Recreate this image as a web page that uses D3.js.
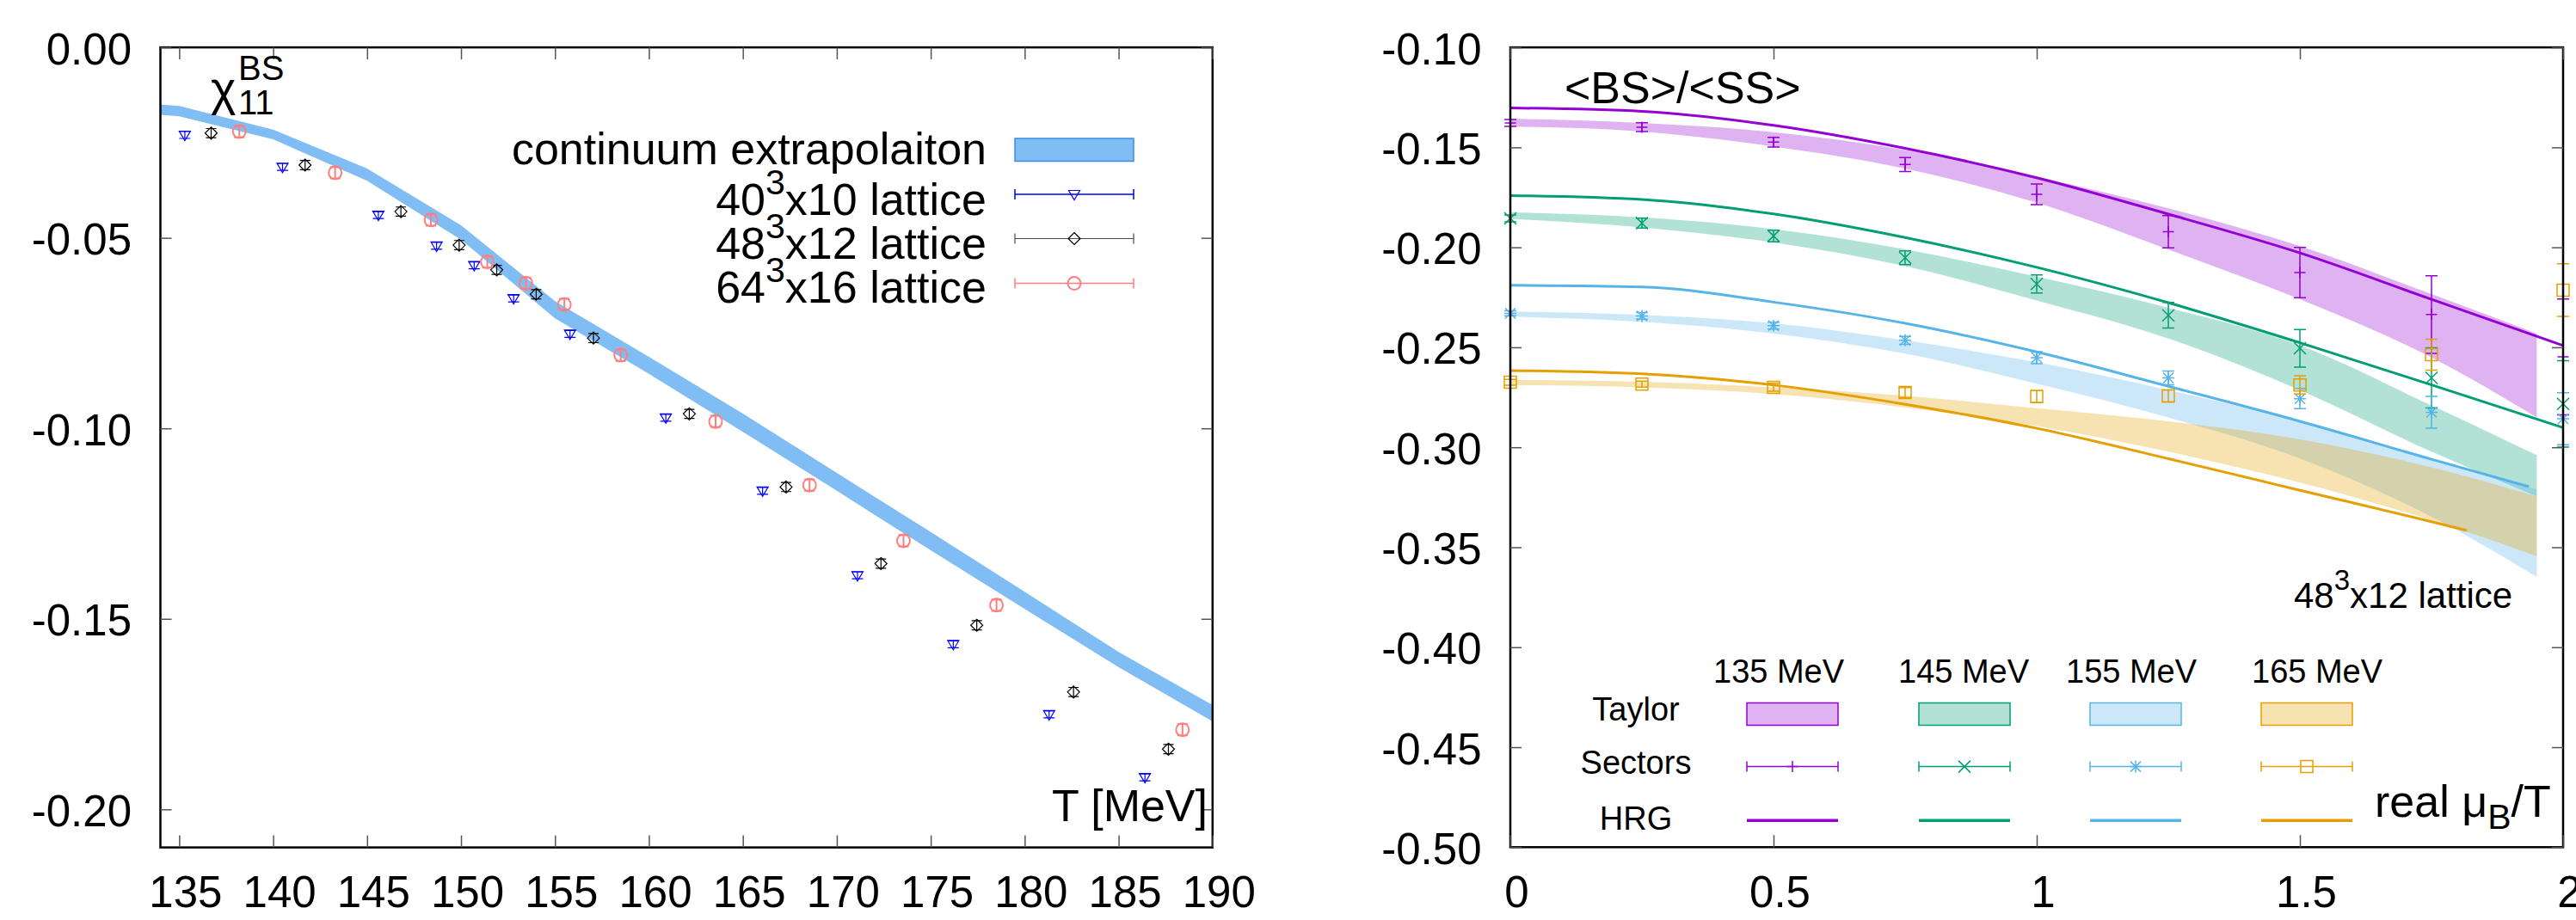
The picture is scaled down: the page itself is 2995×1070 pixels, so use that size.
<!DOCTYPE html>
<html>
<head>
<meta charset="utf-8">
<script src="https://cdn.jsdelivr.net/npm/d3@7"></script>
<style>
  body { margin: 0; background: #fff; }
  svg { display: block; font-family: "Liberation Sans", Arial, sans-serif; }
</style>
</head>
<body>
<svg id="chart" width="2995" height="1070"></svg>
<script>
// ---------------- left panel data: chi11^BS vs T ----------------
const contT  = [134, 135, 140, 145, 150, 155, 160, 165, 170, 175, 180, 185, 190];
const contUp = [-0.0150, -0.0154, -0.0216, -0.0318, -0.0467, -0.0666, -0.0812, -0.0961, -0.1117, -0.1272, -0.1429, -0.1587, -0.1726];
const contDn = [-0.0177, -0.0181, -0.0241, -0.0350, -0.0505, -0.0711, -0.0857, -0.1009, -0.1164, -0.1320, -0.1474, -0.1627, -0.1769];

// 40^3x10
const nt10T = [135.3, 140.5, 145.6, 148.7, 150.7, 152.8, 155.8, 160.9, 166.05, 171.1, 176.2, 181.3, 186.4];
const nt10V = [-0.0230, -0.0314, -0.0440, -0.0521, -0.0572, -0.0659, -0.0752, -0.0972, -0.1164, -0.1386, -0.1567, -0.1751, -0.1916];
const nt10E = [0.0009, 0.0009, 0.0009, 0.0009, 0.0009, 0.0009, 0.0009, 0.0009, 0.0009, 0.0009, 0.0009, 0.0009, 0.0009];
// 48^3x12
const nt12T = [136.7, 141.7, 146.8, 149.9, 151.9, 154.0, 157.05, 162.15, 167.3, 172.35, 177.45, 182.6, 187.65];
const nt12V = [-0.0225, -0.0309, -0.0431, -0.0519, -0.0584, -0.0648, -0.0763, -0.0962, -0.1154, -0.1355, -0.1517, -0.1692, -0.1842];
const nt12E = [0.0012, 0.0012, 0.0012, 0.0012, 0.0012, 0.0012, 0.0012, 0.0012, 0.0012, 0.0012, 0.0012, 0.0012, 0.0012];
// 64^3x16
const nt16T = [138.2, 143.3, 148.4, 151.4, 153.45, 155.5, 158.5, 163.55, 168.55, 173.55, 178.5, 188.4];
const nt16V = [-0.0221, -0.0329, -0.0453, -0.0563, -0.0619, -0.0675, -0.0808, -0.0982, -0.1149, -0.1295, -0.1464, -0.1791];
const nt16E = [0.0015, 0.0015, 0.0015, 0.0015, 0.0015, 0.0015, 0.0015, 0.0015, 0.0015, 0.0015, 0.0015, 0.0015];

const leftTicksX = [135, 140, 145, 150, 155, 160, 165, 170, 175, 180, 185, 190];
const leftTicksY = [0, -0.05, -0.10, -0.15, -0.20];

// ---------------- right panel data: <BS>/<SS> vs mu_B/T ----------------
const temps = ["135 MeV", "145 MeV", "155 MeV", "165 MeV"];
const colors = ["#9400d3", "#009e73", "#56b4e9", "#e69f00"];

// Taylor bands
const taylorMu = [0, 0.25, 0.5, 0.75, 1, 1.25, 1.5, 1.75, 1.95];
const taylor135Up = [-0.1357, -0.1378, -0.1424, -0.1513, -0.1648, -0.1805, -0.1994, -0.2234, -0.2431];
const taylor135Dn = [-0.1396, -0.1421, -0.1496, -0.1606, -0.1777, -0.2011, -0.2260, -0.2551, -0.2851];
const taylor145Up = [-0.1825, -0.1850, -0.1909, -0.2010, -0.2147, -0.2302, -0.2491, -0.2791, -0.3039];
const taylor145Dn = [-0.1858, -0.1900, -0.1976, -0.2094, -0.2266, -0.2456, -0.2714, -0.3022, -0.3245];
const taylor155Up = [-0.2321, -0.2338, -0.2380, -0.2465, -0.2575, -0.2714, -0.2868, -0.3056, -0.3211];
const taylor155Dn = [-0.2347, -0.2372, -0.2431, -0.2532, -0.2682, -0.2851, -0.3056, -0.3347, -0.3648];
const taylor165Up = [-0.2663, -0.2672, -0.2700, -0.2742, -0.2805, -0.2870, -0.2960, -0.3100, -0.3245];
const taylor165Dn = [-0.2689, -0.2700, -0.2734, -0.2801, -0.2894, -0.3022, -0.3176, -0.3365, -0.3545];

// sector points
const sectMu = [0, 0.25, 0.5, 0.75, 1, 1.25, 1.5, 1.75, 2];
const sect135V = [-0.1378, -0.1399, -0.1474, -0.1586, -0.1735, -0.1922, -0.2126, -0.2336, -0.2548];
const sect135E = [0.0017, 0.0022, 0.0024, 0.0035, 0.0052, 0.0081, 0.0126, 0.0194, 0.0290];
const sect145V = [-0.1855, -0.1879, -0.1943, -0.2052, -0.2183, -0.2340, -0.2505, -0.2653, -0.2783];
const sect145E = [0.0017, 0.0025, 0.0029, 0.0034, 0.0045, 0.0064, 0.0094, 0.0150, 0.0216];
const sect155V = [-0.2330, -0.2343, -0.2392, -0.2465, -0.2552, -0.2653, -0.2757, -0.2825, -0.2857];
const sect155E = [0.0012, 0.0017, 0.0017, 0.0020, 0.0030, 0.0034, 0.0050, 0.0080, 0.0130];
const sect165V = [-0.2675, -0.2684, -0.2700, -0.2726, -0.2746, -0.2743, -0.2688, -0.2537, -0.2214];
const sect165E = [0.0015, 0.0015, 0.0020, 0.0025, 0.0030, 0.0030, 0.0046, 0.0077, 0.0132];

// HRG curves
const hrg135Mu = [0, 0.25, 0.5, 0.75, 1, 1.25, 1.5, 1.75, 2];
const hrg135V  = [-0.1303, -0.1320, -0.1390, -0.1505, -0.1652, -0.1834, -0.2028, -0.2260, -0.2491];
const hrg145Mu = [0, 0.25, 0.5, 0.75, 1, 1.25, 1.5, 1.75, 2];
const hrg145V  = [-0.1741, -0.1761, -0.1833, -0.1951, -0.2100, -0.2277, -0.2477, -0.2688, -0.2902];
const hrg155Mu = [0, 0.25, 0.5, 0.75, 1, 1.25, 1.5, 1.75, 1.935];
const hrg155V  = [-0.2190, -0.2198, -0.2274, -0.2380, -0.2523, -0.2695, -0.2870, -0.3060, -0.3197];
const hrg165Mu = [0, 0.25, 0.5, 0.75, 1, 1.25, 1.5, 1.75, 1.817];
const hrg165V  = [-0.2616, -0.2633, -0.2689, -0.2785, -0.2905, -0.3057, -0.3215, -0.3372, -0.3416];

const rightTicksX = [0, 0.5, 1, 1.5, 2];
const rightTicksY = [-0.10, -0.15, -0.20, -0.25, -0.30, -0.35, -0.40, -0.45, -0.50];

// ---------------- drawing ----------------
const svg = d3.select("#chart");
svg.append("rect").attr("width", 2995).attr("height", 1070).attr("fill", "#fff");

const FONT = 52;
const TICKFONT = 51;

// point shapes (local coords)
const shapes = {
    tri: "M-6.5,-4.5L6.5,-4.5L0,6.5Z",
    diamond: "M0,-7L7,0L0,7L-7,0Z",
    circle: "M7.5,0A7.5,7.5 0 1,1 -7.5,0A7.5,7.5 0 1,1 7.5,0Z",
    plus: "M-6.5,0H6.5M0,-6.5V6.5",
    cross: "M-7,-7L7,7M-7,7L7,-7",
    star: "M-7,0H7M0,-7V7M-6,-6L6,6M-6,6L6,-6",
    square: "M-7,-7H7V7H-7Z"
};

function drawFrame(x, y) {
    svg.append("rect")
        .attr("x", x.range()[0]).attr("y", y.range()[1])
        .attr("width", x.range()[1] - x.range()[0])
        .attr("height", y.range()[0] - y.range()[1])
        .attr("fill", "none").attr("stroke", "#000").attr("stroke-width", 2.5);
}

function drawAxes(x, y, xt, yt, xfmt, yfmt) {
    let fam = "Liberation Sans, Arial, sans-serif";
    // bottom
    let gb = svg.append("g").attr("transform", `translate(0,${y.range()[0]})`)
        .call(d3.axisBottom(x).tickValues(xt).tickSize(-14).tickFormat(xfmt));
    // top
    let gt = svg.append("g").attr("transform", `translate(0,${y.range()[1]})`)
        .call(d3.axisTop(x).tickValues(xt).tickSize(-14).tickFormat(""));
    // left
    let gl = svg.append("g").attr("transform", `translate(${x.range()[0]},0)`)
        .call(d3.axisLeft(y).tickValues(yt).tickSize(-13).tickFormat(yfmt));
    // right
    let gr = svg.append("g").attr("transform", `translate(${x.range()[1]},0)`)
        .call(d3.axisRight(y).tickValues(yt).tickSize(-13).tickFormat(""));

    [gb, gt, gl, gr].forEach(g => {
        g.attr("font-size", TICKFONT).attr("font-family", fam);
        g.select(".domain").remove();
        g.selectAll(".tick line").attr("stroke", "#555").attr("stroke-width", 1.5);
    });
    gb.selectAll("text").attr("y", 69.5).attr("dy", 0).attr("dx", 7).attr("fill", "#000");
    gl.selectAll("text").attr("x", -33.5).attr("dy", 19).attr("fill", "#000");
}

function drawErrPoints(g, xs, ys, es, x, y, color, shape, cap, sw) {
    let data = xs.map((t, i) => ({t: t, v: ys[i], e: es[i]}));
    let grp = g.append("g").attr("stroke", color).attr("fill", "none").attr("stroke-width", sw);
    grp.selectAll("path.err").data(data).join("path").attr("class", "err")
        .attr("d", d => {
            let px = x(d.t), y1 = y(d.v + d.e), y2 = y(d.v - d.e);
            return `M${px},${y1}V${y2}M${px - cap},${y1}H${px + cap}M${px - cap},${y2}H${px + cap}`;
        });
    grp.selectAll("path.sym").data(data).join("path").attr("class", "sym")
        .attr("transform", d => `translate(${x(d.t)},${y(d.v)})`)
        .attr("d", shape);
}

// ===== left panel =====
const xL = d3.scaleLinear().domain([134, 190]).range([186.5, 1409.8]);
const yL = d3.scaleLinear().domain([-0.21, 0]).range([985.6, 55.1]);

// continuum band
const contData = contT.map((t, i) => ({t: t, up: contUp[i], dn: contDn[i]}));
svg.append("path")
    .datum(contData)
    .attr("fill", "#80bdf4")
    .attr("d", d3.area().x(d => xL(d.t)).y0(d => yL(d.dn)).y1(d => yL(d.up)));

const gLeft = svg.append("g");
drawErrPoints(gLeft, nt10T, nt10V, nt10E, xL, yL, "#0000ff", shapes.tri, 6.5, 1.2);
drawErrPoints(gLeft, nt12T, nt12V, nt12E, xL, yL, "#000000", shapes.diamond, 6, 1.2);
drawErrPoints(gLeft, nt16T, nt16V, nt16E, xL, yL, "#ff7f7f", shapes.circle, 6, 2);

drawFrame(xL, yL);
drawAxes(xL, yL, leftTicksX, leftTicksY, d3.format("d"), d => d.toFixed(2));

// chi label
svg.append("text").attr("x", 245).attr("y", 122).attr("font-size", 56).text("χ");
svg.append("text").attr("x", 277).attr("y", 133).attr("font-size", 40).text("11");
svg.append("text").attr("x", 277).attr("y", 93).attr("font-size", 40).text("BS");

// x label
svg.append("text").attr("x", 1404).attr("y", 955).attr("font-size", FONT)
    .attr("text-anchor", "end").text("T [MeV]");

// left legend
const legL = svg.append("g");
const legX0 = 1180, legX1 = 1318, legTx = 1147;
legL.append("text").attr("x", legTx).attr("y", 191).attr("font-size", FONT)
    .attr("text-anchor", "end").text("continuum extrapolaiton");
legL.append("rect").attr("x", legX0).attr("y", 161).attr("width", legX1 - legX0).attr("height", 26.5)
    .attr("fill", "#80bdf4").attr("stroke", "#3b8ee6").attr("stroke-width", 1.5);

const legRows = [
    {pre: "40", post: "x10 lattice", color: "#0000ff", shape: shapes.tri, ly: 226, ty: 249.5, sw: 1.2},
    {pre: "48", post: "x12 lattice", color: "#000000", shape: shapes.diamond, ly: 277.5, ty: 301, sw: 1.2},
    {pre: "64", post: "x16 lattice", color: "#ff7f7f", shape: shapes.circle, ly: 329.5, ty: 352, sw: 2}
];
legRows.forEach(r => {
    let t = legL.append("text").attr("x", legTx).attr("y", r.ty).attr("font-size", FONT).attr("text-anchor", "end");
    t.append("tspan").text(r.pre);
    t.append("tspan").attr("font-size", 41).attr("dy", -24).text("3");
    t.append("tspan").attr("font-size", FONT).attr("dy", 24).text(r.post);
    legL.append("path")
        .attr("d", `M${legX0},${r.ly}H${legX1}M${legX0},${r.ly - 6}V${r.ly + 6}M${legX1},${r.ly - 6}V${r.ly + 6}`)
        .attr("stroke", r.color).attr("stroke-width", r.color === "#000000" ? 1.2 : 1.5).attr("opacity", r.color === "#000000" ? 0.7 : 1);
    legL.append("path").attr("transform", `translate(${(legX0 + legX1) / 2},${r.ly})`)
        .attr("d", r.shape).attr("fill", "none").attr("stroke", r.color).attr("stroke-width", r.sw);
});

// ===== right panel =====
const xR = d3.scaleLinear().domain([0, 2]).range([1756, 2980]);
const yR = d3.scaleLinear().domain([-0.5, -0.1]).range([985.3, 55.1]);

const taylorUp = [taylor135Up, taylor145Up, taylor155Up, taylor165Up];
const taylorDn = [taylor135Dn, taylor145Dn, taylor155Dn, taylor165Dn];
const bandArea = d3.area().curve(d3.curveMonotoneX)
    .x(d => xR(d.mu)).y0(d => yR(d.dn)).y1(d => yR(d.up));

taylorUp.forEach((up, k) => {
    let data = taylorMu.map((m, i) => ({mu: m, up: up[i], dn: taylorDn[k][i]}));
    svg.append("path").datum(data)
        .attr("fill", colors[k]).attr("fill-opacity", 0.3)
        .attr("d", bandArea);
});

// HRG lines
const hrgMu = [hrg135Mu, hrg145Mu, hrg155Mu, hrg165Mu];
const hrgV = [hrg135V, hrg145V, hrg155V, hrg165V];
const hrgLine = d3.line().curve(d3.curveMonotoneX).x(d => xR(d.mu)).y(d => yR(d.v));
hrgMu.forEach((mus, k) => {
    svg.append("path").datum(mus.map((m, i) => ({mu: m, v: hrgV[k][i]})))
        .attr("fill", "none").attr("stroke", colors[k]).attr("stroke-width", 3)
        .attr("d", hrgLine);
});

// sector points
const sectV = [sect135V, sect145V, sect155V, sect165V];
const sectE = [sect135E, sect145E, sect155E, sect165E];
const sectShapes = [shapes.plus, shapes.cross, shapes.star, shapes.square];
const gRight = svg.append("g");
sectV.forEach((vals, k) => {
    drawErrPoints(gRight, sectMu, vals, sectE[k], xR, yR, colors[k], sectShapes[k], 7, 1.5);
});

drawFrame(xR, yR);
drawAxes(xR, yR, rightTicksX, rightTicksY, d => String(d), d => d.toFixed(2));

// labels
svg.append("text").attr("x", 1819).attr("y", 119.5).attr("font-size", FONT).text("<BS>/<SS>");

let lat = svg.append("text").attr("x", 2667).attr("y", 707).attr("font-size", 42);
lat.append("tspan").text("48");
lat.append("tspan").attr("font-size", 33).attr("dy", -21).text("3");
lat.append("tspan").attr("font-size", 42).attr("dy", 21).text("x12 lattice");

let xlab = svg.append("text").attr("x", 2761).attr("y", 950).attr("font-size", FONT);
xlab.append("tspan").text("real μ");
xlab.append("tspan").attr("font-size", 41).attr("dy", 14).text("B");
xlab.append("tspan").attr("font-size", FONT).attr("dy", -14).text("/T");

// right legend
const legR = svg.append("g").attr("font-size", 38);
const headX = [1992, 2207, 2402, 2618];
const boxX = [2031, 2231, 2430, 2629];
const boxW = 106;
temps.forEach((t, k) => {
    legR.append("text").attr("x", headX[k]).attr("y", 793.5).text(t);
    legR.append("rect").attr("x", boxX[k]).attr("y", 817.5).attr("width", boxW).attr("height", 26)
        .attr("fill", colors[k]).attr("fill-opacity", 0.3)
        .attr("stroke", colors[k]).attr("stroke-width", 1.5);
    let ly = 891.6, x0 = boxX[k], x1 = boxX[k] + boxW;
    legR.append("path")
        .attr("d", `M${x0},${ly}H${x1}M${x0},${ly - 6}V${ly + 6}M${x1},${ly - 6}V${ly + 6}`)
        .attr("stroke", colors[k]).attr("stroke-width", 1.5).attr("fill", "none");
    legR.append("path").attr("transform", `translate(${(x0 + x1) / 2},${ly})`)
        .attr("d", sectShapes[k]).attr("stroke", colors[k]).attr("stroke-width", 1.5).attr("fill", "none");
    legR.append("path").attr("d", `M${x0},954.2H${x1}`)
        .attr("stroke", colors[k]).attr("stroke-width", 3.5);
});
legR.append("text").attr("x", 1902).attr("y", 838).attr("text-anchor", "middle").text("Taylor");
legR.append("text").attr("x", 1902).attr("y", 900).attr("text-anchor", "middle").text("Sectors");
legR.append("text").attr("x", 1902).attr("y", 964.5).attr("text-anchor", "middle").text("HRG");
</script>
</body>
</html>
